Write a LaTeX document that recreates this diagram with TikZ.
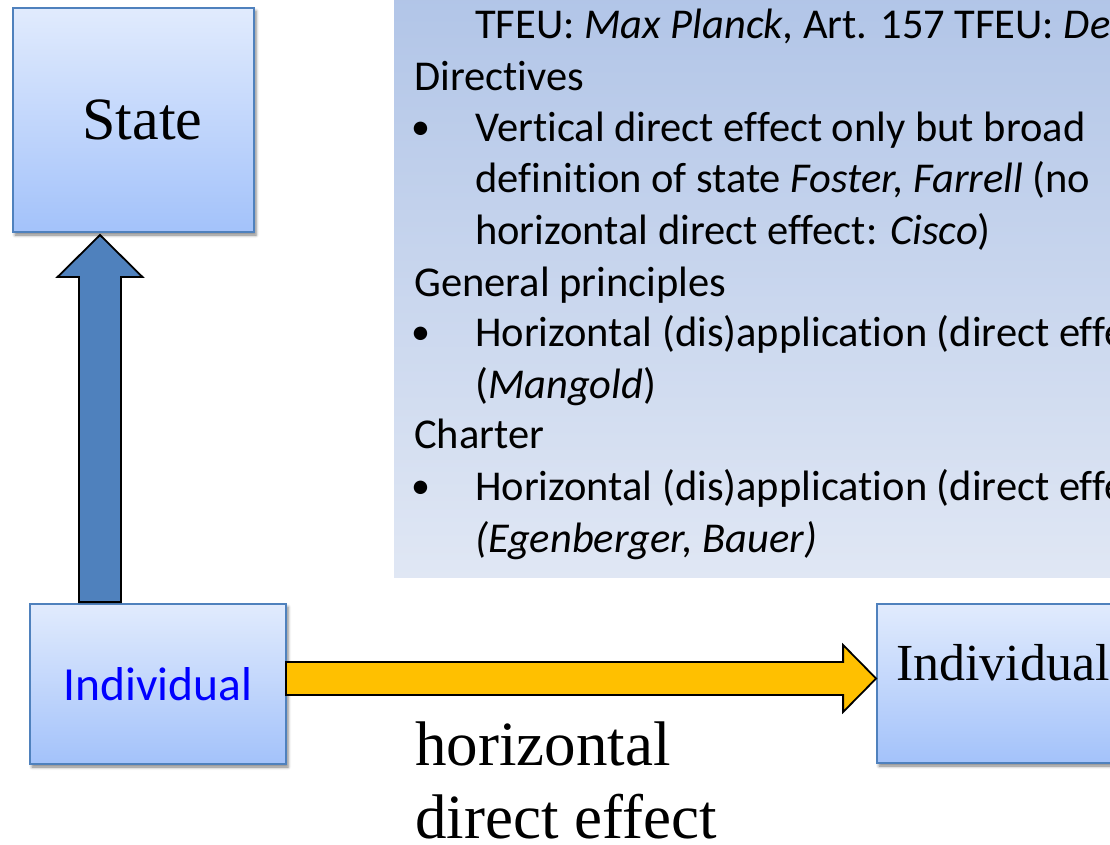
\documentclass[tikz,border=0pt]{standalone}
\usepackage{fontspec}
\usetikzlibrary{calc,shadows.blur}
\newfontfamily\bodyfont[Ligatures=NoCommon]{Carlito}
\newfontfamily\serifface{Liberation Serif}
\definecolor{boxtop}{HTML}{E1EBFD}
\definecolor{boxbot}{HTML}{A3C2FA}
\definecolor{boxline}{HTML}{4F81BD}
\definecolor{paneltop}{HTML}{B0C4E7}
\definecolor{panelbot}{HTML}{E0E7F4}
\definecolor{upblue}{HTML}{4F81BD}
\definecolor{amber}{HTML}{FFC000}
\definecolor{pureblue}{HTML}{0000FF}

\begin{document}
\begin{tikzpicture}[x=1pt,y=-1pt,
  entity/.style={draw=boxline, line width=1.8pt, top color=boxtop, bottom color=boxbot,
    inner sep=0pt, blur shadow={shadow xshift=2pt, shadow yshift=-3pt,
    shadow blur radius=3pt, shadow opacity=50}},
  panelbox/.style={top color=paneltop, bottom color=panelbot, inner sep=0pt},
  panelline/.style={anchor=base west, inner sep=0pt, font=\bodyfont\fontsize{42.5}{51}\selectfont},
  bulletmark/.style={anchor=base west, inner sep=0pt, font=\bodyfont\fontsize{38}{38}\selectfont},
  serifbig/.style={inner sep=0pt, font=\serifface\fontsize{#1}{#1}\selectfont},
  blockarrow/.style={draw=black, line width=1.8pt, line join=miter}
]
\useasboundingbox (0,0) rectangle (1110,844);
\clip (0,0) rectangle (1110,844);

% case-law panel
\node[panelbox, minimum width=760pt, minimum height=600pt, anchor=south west] (panel) at (394,578) {};
\node[panelline] (l0) at (475,38) {TFEU: \textit{Max Planck,} Art. 157 TFEU: \textit{Defrenne}};
\node[panelline] (l1) at (414,90) {Directives};
\node[bulletmark] (b1) at (411,139) {\textbullet};
\node[panelline] (l2) at (475,141) {Vertical direct effect only but broad};
\node[panelline] (l3) at (475,192) {definition of state \textit{Foster, Farrell} (no};
\node[panelline] (l4) at (475,244) {horizontal direct effect: \textit{Cisco})};
\node[panelline] (l5) at (414,296) {General principles};
\node[bulletmark] (b2) at (411,344) {\textbullet};
\node[panelline] (l6) at (475,346) {Horizontal (dis)application (direct effect)};
\node[panelline] (l7) at (475,398) {(\textit{Mangold})};
\node[panelline] (l8) at (414,448) {Charter};
\node[bulletmark] (b3) at (411,498) {\textbullet};
\node[panelline] (l9) at (475,500) {Horizontal (dis)application (direct effect)};
\node[panelline] (l10) at (475,552) {\textit{(Egenberger, Bauer)}};

% box positions
\path (133.5,120) coordinate (statePos)
      (158,684) coordinate (indLPos)
      (1005,683.5) coordinate (indRPos);

% the three parties (placed first so the arrows can use their anchors)
\node[entity, minimum width=241pt, minimum height=224pt] (state) at (statePos) {};
\node[entity, minimum width=256pt, minimum height=160pt, text=pureblue,
      font=\bodyfont\fontsize{47.5}{47.5}\selectfont] (indL) at (indLPos) {Individual};
\node[entity, minimum width=256pt, minimum height=159pt] (indR) at (indRPos) {};

% vertical arrow: individual -> state
\coordinate (upTip) at (100,235);
\coordinate (upTail) at ([yshift=1pt]upTip |- indL.north);
\draw[blockarrow, fill=upblue]
  ($(upTail)+(-21,0)$) -- ($(upTip)+(-21,42)$) -- ($(upTip)+(-42.5,42)$) -- (upTip)
  -- ($(upTip)+(42.5,42)$) -- ($(upTip)+(21,42)$) -- ($(upTail)+(21,0)$) -- cycle;

% horizontal arrow: individual -> individual
\coordinate (rTail) at ([xshift=-1pt]indL.east |- 0,678.5);
\coordinate (rTip) at (indR.west |- rTail);
\draw[blockarrow, fill=amber]
  ($(rTail)+(0,-16.5)$) -- ($(rTip)+(-33,-16.5)$) -- ($(rTip)+(-33,-33.5)$) -- (rTip)
  -- ($(rTip)+(-33,33.5)$) -- ($(rTip)+(-33,16.5)$) -- ($(rTail)+(0,16.5)$) -- cycle;

% box labels
\node[serifbig=60, anchor=base] (stateLbl) at (142.5,139) {State};
\node[serifbig=52, anchor=base] (indRLbl) at (1003,680) {Individual};

% arrow caption (anchored on the baseline of its last line)
\node[anchor=base west, align=left, inner sep=0pt, font=\serifface\fontsize{63}{73}\selectfont]
  (hde) at (415,838) {horizontal\\direct effect};
\end{tikzpicture}
\end{document}
